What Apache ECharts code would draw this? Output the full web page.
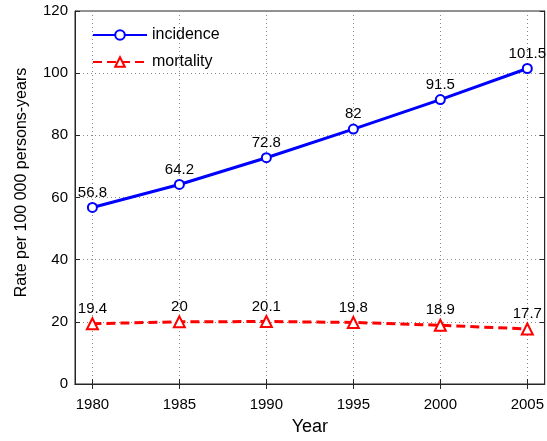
<!DOCTYPE html>
<html><head><meta charset="utf-8">
<script src="https://cdn.jsdelivr.net/npm/echarts@6/dist/echarts.min.js"></script>
<style>html,body{margin:0;padding:0;background:#fff}#c{width:547px;height:441px}</style>
</head><body><div id="c"></div>
<script>
const years = [1980, 1985, 1990, 1995, 2000, 2005];
const incidence = [56.8, 64.2, 72.8, 82, 91.5, 101.5];
const mortality = [19.4, 20, 20.1, 19.8, 18.9, 17.7];
const xTicks = [1980, 1985, 1990, 1995, 2000, 2005];

const font = 'Liberation Sans, Arial, Helvetica, sans-serif';
const chart = echarts.init(document.getElementById('c'));
const toPairs = arr => years.map((y, i) => [y, arr[i]]);
const gridLine = { show: true, lineStyle: { color: '#8a8a8a', type: [1, 3], width: 1 } };
chart.setOption({
  animation: false,
  grid: { left: 75, right: 2, top: 11, bottom: 54, show: true, borderColor: '#262626', borderWidth: 1, backgroundColor: 'transparent' },
  legend: {
    left: 92, top: 27, padding: 0, orient: 'vertical', itemWidth: 54, itemHeight: 12, itemGap: 11,
    textStyle: { fontFamily: font, fontSize: 16, color: '#000' },
    data: ['incidence', 'mortality']
  },
  xAxis: [{
    type: 'value', min: 1979, max: 2006,
    name: 'Year', nameLocation: 'middle', nameGap: 34,
    nameTextStyle: { fontFamily: font, fontSize: 18, color: '#000' },
    axisLine: { show: true, lineStyle: { color: '#262626' } },
    axisTick: { show: true, inside: true, length: 5, customValues: xTicks, lineStyle: { color: '#262626' } },
    axisLabel: { customValues: xTicks, formatter: v => String(v), fontFamily: font, fontSize: 15, color: '#000', margin: 13 },
    splitLine: gridLine
  }, {
    type: 'value', min: 1979, max: 2006, position: 'top',
    axisLine: { show: true, lineStyle: { color: '#262626' } },
    axisTick: { show: true, inside: true, length: 5, customValues: xTicks, lineStyle: { color: '#262626' } },
    axisLabel: { show: false }, splitLine: { show: false }
  }],
  yAxis: [{
    type: 'value', min: 0, max: 120, interval: 20,
    name: 'Rate per 100 000 persons-years', nameLocation: 'middle', nameGap: 45,
    nameTextStyle: { fontFamily: font, fontSize: 16, color: '#000', padding: [0, 0, 0, 30] },
    axisLine: { show: true, lineStyle: { color: '#262626' } },
    axisTick: { show: true, inside: true, length: 5, lineStyle: { color: '#262626' } },
    axisLabel: { fontFamily: font, fontSize: 15, color: '#000', margin: 7 },
    splitLine: gridLine
  }, {
    type: 'value', min: 0, max: 120, interval: 20, position: 'right',
    axisLine: { show: true, lineStyle: { color: '#262626' } },
    axisTick: { show: true, inside: true, length: 5, lineStyle: { color: '#262626' } },
    axisLabel: { show: false }, splitLine: { show: false }
  }],
  series: [{
    name: 'incidence', type: 'line', data: toPairs(incidence),
    symbol: 'emptyCircle', symbolSize: 9,
    lineStyle: { color: '#0000ff', width: 3 },
    itemStyle: { color: '#0000ff', borderWidth: 2.5 },
    label: { show: true, position: 'top', distance: 2, color: '#000', fontFamily: font, fontSize: 15 }
  }, {
    name: 'mortality', type: 'line', data: toPairs(mortality),
    symbol: 'emptyTriangle', symbolSize: 11,
    lineStyle: { color: '#ff0000', width: 3, type: [9, 5] },
    itemStyle: { color: '#ff0000', borderWidth: 2.5 },
    label: { show: true, position: 'top', distance: 1, color: '#000', fontFamily: font, fontSize: 15 }
  }]
});
</script></body></html>
